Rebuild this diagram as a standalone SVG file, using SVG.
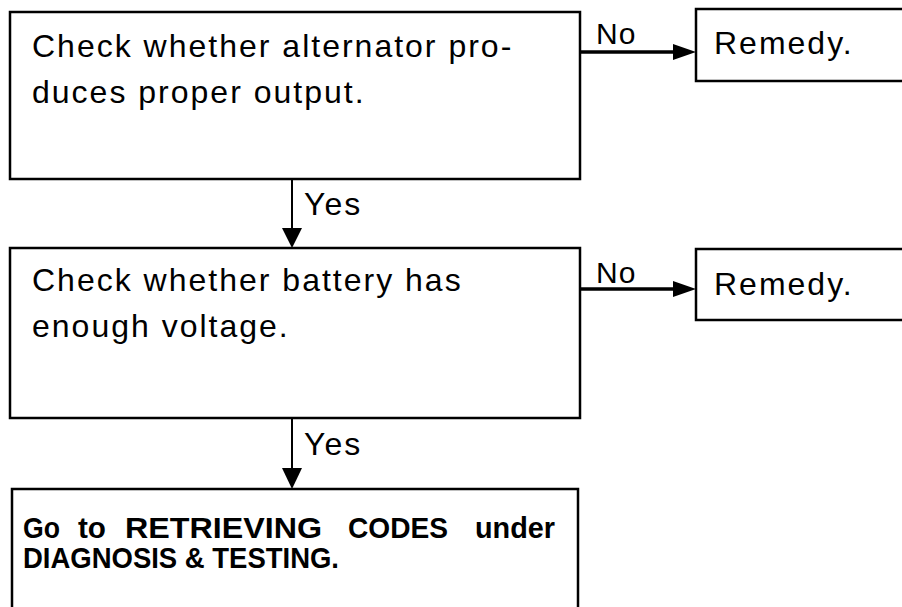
<svg xmlns="http://www.w3.org/2000/svg" width="902" height="607" viewBox="0 0 902 607">
<style>
.box{fill:#fff;stroke:#000;stroke-width:2.5}
.t{font-family:"Liberation Sans",Arial,Helvetica,sans-serif;font-size:32px;letter-spacing:2px;fill:#000}
.lbl{font-family:"Liberation Sans",Arial,Helvetica,sans-serif;font-size:30px;letter-spacing:1px;fill:#000}
.b{font-family:"Liberation Sans",Arial,Helvetica,sans-serif;font-size:30px;font-weight:bold;fill:#000}
.h{stroke:#000;stroke-width:3.5;fill:none}
.v{stroke:#000;stroke-width:2;fill:none}
</style>
<rect width="902" height="607" fill="#fff"/>
<g id="connectors">
<line class="h" x1="580" y1="52" x2="678" y2="52"/>
<polygon points="673,44 696,52 673,60"/>
<line class="h" x1="580" y1="289" x2="678" y2="289"/>
<polygon points="673,281 696,289 673,297"/>
<line class="v" x1="292" y1="179" x2="292" y2="230"/>
<polygon points="282,228 302,228 292,248"/>
<line class="v" x1="292" y1="418" x2="292" y2="470"/>
<polygon points="282,468 302,468 292,489"/>
<text class="lbl" x="596" y="44">No</text>
<text class="lbl" x="596" y="283">No</text>
<text class="t" x="304" y="215">Yes</text>
<text class="t" x="304" y="455">Yes</text>
</g>
<g id="n1">
<rect class="box" x="10" y="12" width="570" height="167"/>
<text class="t" x="32" y="57">Check whether alternator pro-</text>
<text class="t" x="32" y="103">duces proper output.</text>
</g>
<g id="r1">
<rect class="box" x="696" y="9" width="220" height="72"/>
<text class="t" x="714" y="54">Remedy.</text>
</g>
<g id="n2">
<rect class="box" x="10" y="248" width="570" height="170"/>
<text class="t" x="32" y="291">Check whether battery has</text>
<text class="t" x="32" y="337">enough voltage.</text>
</g>
<g id="r2">
<rect class="box" x="696" y="249" width="220" height="71"/>
<text class="t" x="714" y="295">Remedy.</text>
</g>
<g id="n3">
<rect class="box" x="12" y="489" width="566" height="140"/>
<text class="b" y="538"><tspan x="23" textLength="37" lengthAdjust="spacingAndGlyphs">Go</tspan><tspan x="78" textLength="28" lengthAdjust="spacingAndGlyphs">to</tspan><tspan x="125" textLength="197" lengthAdjust="spacingAndGlyphs">RETRIEVING</tspan><tspan x="348" textLength="100" lengthAdjust="spacingAndGlyphs">CODES</tspan><tspan x="475" textLength="80" lengthAdjust="spacingAndGlyphs">under</tspan></text>
<text class="b" x="23" y="568" textLength="316" lengthAdjust="spacingAndGlyphs">DIAGNOSIS &amp; TESTING.</text>
</g>
</svg>
